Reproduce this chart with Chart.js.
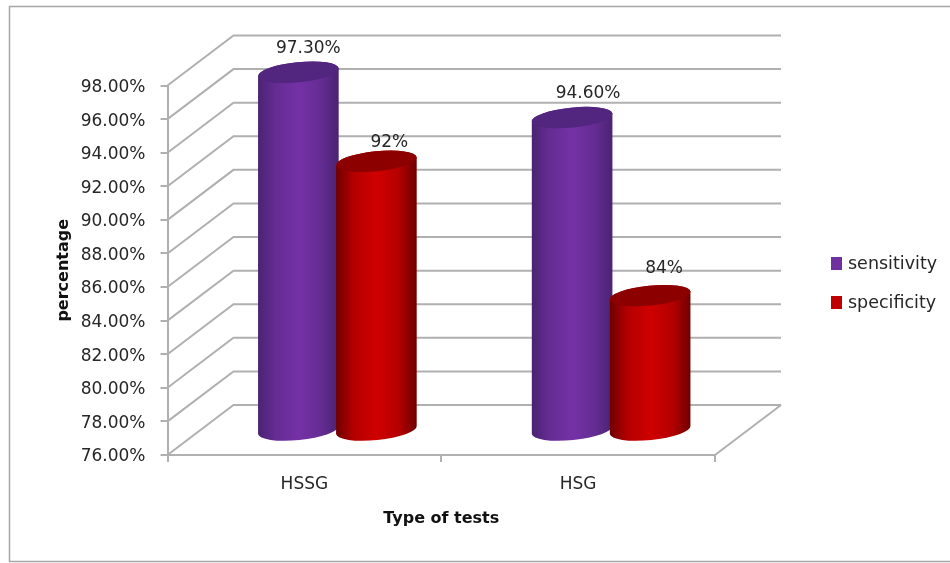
<!DOCTYPE html>
<html>
<head>
<meta charset="utf-8">
<title>Type of tests</title>
<script src="https://cdn.jsdelivr.net/npm/chart.js@4"></script>
<style>
  html, body { margin: 0; padding: 0; background: #fff; }
  #wrap { width: 950px; height: 563px; }
</style>
</head>
<body>
<div id="wrap"><canvas id="chart" width="950" height="563"></canvas></div>
<script>
const categories = ["HSSG", "HSG"];
const sensitivity = [97.3, 94.6];
const specificity = [92, 84];
const sensitivityLabels = ["97.30%", "94.60%"];
const specificityLabels = ["92%", "84%"];

const FONT = '"DejaVu Sans"';
const TEXT = "#262626";
const WALL = "#b0b0b0";
// depth of the 3D box, bars stand half way into it
const DEPTH_X = 66;
const DEPTH_Y = 50;
const TILT = -0.1;
const RY = 10;

const looks = [
  { legend: "#7030a0", edge: "#4a2372", side: "#652c93", mid: "#7431a6", cap: "#52257f" },
  { legend: "#c00000", edge: "#6e0000", side: "#b40000", mid: "#cf0000", cap: "#8c0000" },
];

// label offsets from the top of each cylinder, per series
const labelNudge = [
  [{ dx: 10, dy: -24 }, { dx: 16, dy: -24 }],
  [{ dx: 13, dy: -19 }, { dx: 14, dy: -27 }],
];

function drawWalls(chart) {
  const { ctx, scales } = chart;
  const x0 = scales.x.left;
  const x1 = scales.x.right;
  const floor = scales.y.bottom;
  ctx.save();
  ctx.strokeStyle = WALL;
  ctx.lineWidth = 2;
  scales.y.ticks.forEach((t) => {
    const y = scales.y.getPixelForValue(t.value);
    ctx.beginPath();
    ctx.moveTo(x0, y);
    ctx.lineTo(x0 + DEPTH_X, y - DEPTH_Y);
    ctx.lineTo(x1 + DEPTH_X, y - DEPTH_Y);
    ctx.stroke();
  });
  ctx.beginPath();
  ctx.moveTo(x1, floor);
  ctx.lineTo(x1 + DEPTH_X, floor - DEPTH_Y);
  ctx.stroke();
  ctx.restore();
}

function drawCylinder(ctx, bar, floor, look) {
  const cx = bar.x + DEPTH_X / 2;
  const top = bar.y - DEPTH_Y / 2;
  const bottom = floor - DEPTH_Y / 2;
  const rx = bar.width / 2 + 1.5;

  const grad = ctx.createLinearGradient(cx - rx, 0, cx + rx, 0);
  grad.addColorStop(0, look.edge);
  grad.addColorStop(0.22, look.side);
  grad.addColorStop(0.5, look.mid);
  grad.addColorStop(0.78, look.side);
  grad.addColorStop(1, look.edge);

  ctx.fillStyle = grad;
  ctx.beginPath();
  ctx.ellipse(cx, bottom, rx, RY, TILT, 0, Math.PI);
  ctx.ellipse(cx, top, rx, RY, TILT, Math.PI, Math.PI * 2);
  ctx.closePath();
  ctx.fill();

  ctx.fillStyle = look.cap;
  ctx.beginPath();
  ctx.ellipse(cx, top, rx, RY, TILT, 0, Math.PI * 2);
  ctx.fill();
}

const box3d = {
  id: "box3d",
  beforeDraw(chart) {
    const ctx = chart.ctx;
    ctx.save();
    ctx.strokeStyle = "#a6a6a6";
    ctx.lineWidth = 1.5;
    ctx.strokeRect(9.5, 6.5, 960, 555);
    ctx.restore();
  },
  beforeDatasetsDraw(chart) {
    drawWalls(chart);
  },
  afterDatasetsDraw(chart) {
    const ctx = chart.ctx;
    const floor = chart.scales.y.bottom;
    const valueLabels = [sensitivityLabels, specificityLabels];
    ctx.save();
    chart.data.datasets.forEach((ds, i) => {
      chart.getDatasetMeta(i).data.forEach((bar) => drawCylinder(ctx, bar, floor, looks[i]));
    });
    ctx.font = "17px " + FONT;
    ctx.fillStyle = TEXT;
    ctx.textAlign = "center";
    ctx.textBaseline = "middle";
    chart.data.datasets.forEach((ds, i) => {
      chart.getDatasetMeta(i).data.forEach((bar, j) => {
        const nudge = labelNudge[i][j];
        ctx.fillText(valueLabels[i][j], bar.x + DEPTH_X / 2 + nudge.dx, bar.y - DEPTH_Y / 2 + nudge.dy);
      });
    });

    // legend
    const rows = [264, 303];
    ctx.font = "17.5px " + FONT;
    ctx.textAlign = "left";
    chart.data.datasets.forEach((ds, i) => {
      ctx.fillStyle = looks[i].legend;
      ctx.fillRect(831, rows[i] - 7, 11, 13);
      ctx.fillStyle = TEXT;
      ctx.fillText(ds.label, 848, rows[i]);
    });
    ctx.restore();
  },
};

new Chart(document.getElementById("chart"), {
  type: "bar",
  data: {
    labels: categories,
    datasets: [
      { label: "sensitivity", data: sensitivity, backgroundColor: "rgba(0,0,0,0)" },
      { label: "specificity", data: specificity, backgroundColor: "rgba(0,0,0,0)" },
    ],
  },
  options: {
    responsive: false,
    animation: false,
    categoryPercentage: 0.57,
    barPercentage: 1,
    layout: { autoPadding: false, padding: { left: 50, top: 85.5, right: 235, bottom: 30 } },
    plugins: { legend: { display: false }, tooltip: { enabled: false } },
    scales: {
      x: {
        offset: true,
        afterFit: (s) => { s.height = 78; },
        grid: { drawOnChartArea: false, color: WALL, tickLength: 7, lineWidth: 2 },
        border: { color: WALL, width: 2 },
        ticks: { color: TEXT, font: { family: FONT, size: 17 }, padding: 12 },
        title: {
          display: true,
          text: "Type of tests",
          color: "#111",
          font: { family: FONT, size: 16, weight: "bold" },
          padding: { top: 0, bottom: 5 },
        },
      },
      y: {
        min: 76,
        max: 98,
        afterFit: (s) => { s.width = 117.5; },
        grid: { drawOnChartArea: false, color: WALL, tickLength: 7, lineWidth: 2 },
        border: { color: WALL, width: 2 },
        ticks: {
          stepSize: 2,
          color: TEXT,
          padding: 15,
          labelOffset: 2,
          font: { family: FONT, size: 17 },
          callback: (v) => v.toFixed(2) + "%",
        },
        title: {
          display: true,
          text: "percentage",
          color: "#111",
          font: { family: FONT, size: 16, weight: "bold" },
          padding: { top: 4, bottom: 0 },
        },
      },
    },
  },
  plugins: [box3d],
});
</script>
</body>
</html>
